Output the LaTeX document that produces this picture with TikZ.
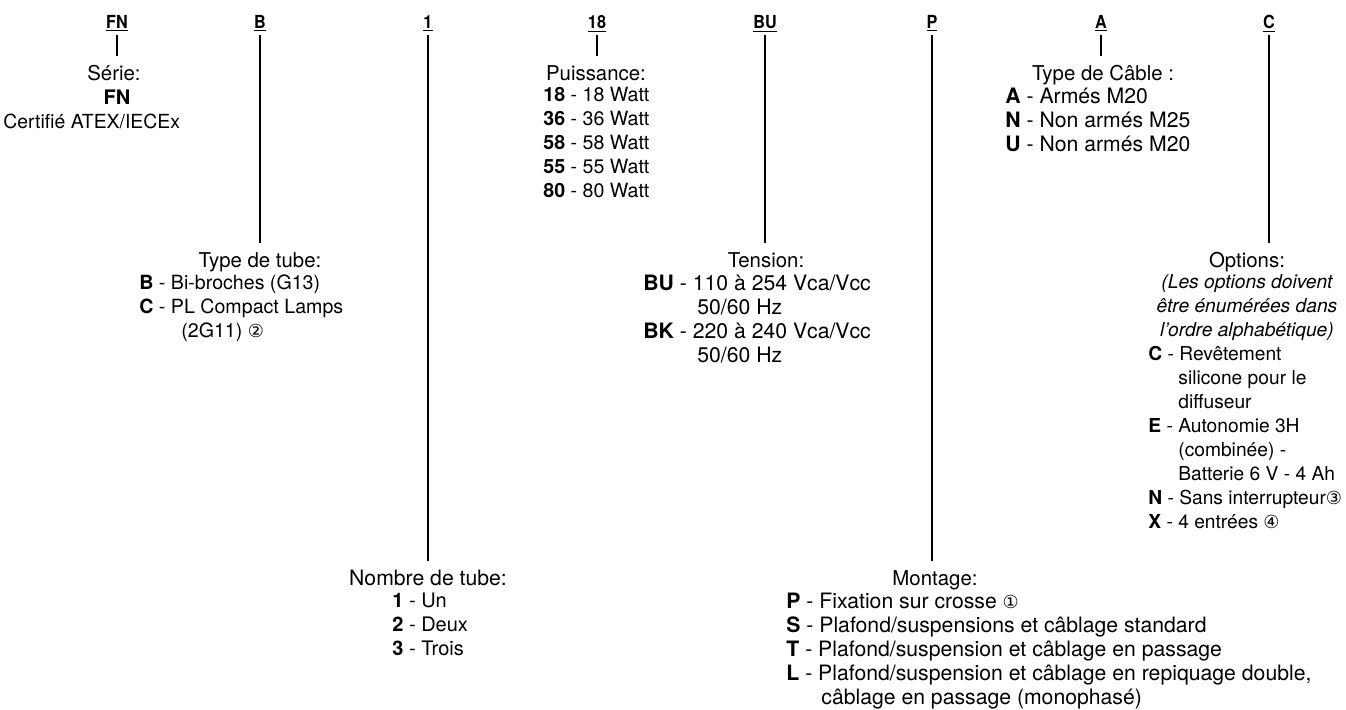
\documentclass[tikz,border=0pt]{standalone}
\usepackage{fontspec}
\setmainfont{TeX Gyre Heros}
\newfontfamily\codefont[FakeStretch=0.9]{TeX Gyre Heros}
\newfontfamily\symfont{DejaVu Sans}
\newcommand{\cnum}[1]{{\symfont\fontsize{9}{12}\selectfont #1}}
\usetikzlibrary{calc}

\begin{document}
\begin{tikzpicture}[x=0.5pt, y=-0.5pt,
    code/.style={font=\codefont\bfseries\fontsize{9}{12}\selectfont, anchor=base, inner sep=0pt, text depth=3.5pt},
    title/.style={font=\fontsize{#1}{12}\selectfont, anchor=base, inner xsep=0pt, inner ysep=4.5pt, text height=7.2pt, text depth=0pt},
    title/.default=10.2,
    list/.style={font=\fontsize{#1}{12}\selectfont, anchor=north west, align=left, inner sep=0pt, execute at begin node=\strut},
    list/.default=10,
    note/.style={list, font=\fontsize{9.6}{12}\selectfont\itshape, anchor=north, align=center},
    link/.style={line width=0.6pt}]
    \useasboundingbox (0,0) rectangle (1346,709);

    \node[code] (fn) at (117,28) {\underline{FN}};
    \node[code] (b) at (260,28) {\underline{B}};
    \node[code] (nb) at (428,28) {\underline{1}};
    \node[code] (w) at (597,28) {\underline{18}};
    \node[code] (bu) at (765,28) {\underline{BU}};
    \node[code] (p) at (932,28) {\underline{P}};
    \node[code] (a) at (1101,28) {\underline{A}};
    \node[code] (c) at (1269,28) {\underline{C}};

    \node[title] (serie) at (114,80) {Série:};
    \node[list, anchor=north] (fnbold) at (117,87.2) {\textbf{FN}};
    \node[list=9.7] (certif) at (3,111.2) {Certifié ATEX/IECEx};

    \node[title] (tube) at (260,267) {Type de tube:};
    \node[list=9.8] (tubelist) at (139,274.2) {\textbf{B} - Bi-broches (G13)\\\textbf{C} - PL Compact Lamps\\\hspace*{21pt}(2G11) \cnum{②}};

    \node[title=10.6] (nombre) at (428,585) {Nombre de tube:};
    \node[list] (nombrelist) at (392,592.2) {\textbf{1} - Un\\\textbf{2} - Deux\\\textbf{3} - Trois};

    \node[title] (puiss) at (596,80) {Puissance:};
    \node[list=9.8] (puisslist) at (543,87.2) {\textbf{18} - 18 Watt\\\textbf{36} - 36 Watt\\\textbf{58} - 58 Watt\\\textbf{55} - 55 Watt\\\textbf{80} - 80 Watt};

    \node[title] (tension) at (766,267) {Tension:};
    \node[list=10.6] (tensionlist) at (643,274.2) {\textbf{BU} - 110 à 254 Vca/Vcc\\\hspace*{27pt}50/60 Hz\\\textbf{BK} - 220 à 240 Vca/Vcc\\\hspace*{27pt}50/60 Hz};

    \node[title] (montage) at (935,585) {Montage:};
    \node[list=10.6] (montagelist) at (786,592.2) {\textbf{P} - Fixation sur crosse \cnum{①}\\\textbf{S} - Plafond/suspensions et câblage standard\\\textbf{T} - Plafond/suspension et câblage en passage\\\textbf{L} - Plafond/suspension et câblage en repiquage double,\\\hspace*{17.5pt}câblage en passage (monophasé)};

    \node[title] (cable) at (1103,80) {Type de Câble :};
    \node[list=10.6] (cablelist) at (1005,87.2) {\textbf{A} - Armés M20\\\textbf{N} - Non armés M25\\\textbf{U} - Non armés M20};

    \node[title] (options) at (1247,267) {Options:};
    \node[note] (optnote) at (1247,274.2) {(Les options doivent\\être énumérées dans\\l'ordre alphabétique)};
    \node[list=9.6] (optlist) at (1148,346.2) {\textbf{C} - Revêtement\\\hspace*{15pt}silicone pour le\\\hspace*{15pt}diffuseur\\\textbf{E} - Autonomie 3H\\\hspace*{15pt}(combinée) -\\\hspace*{15pt}Batterie 6 V - 4 Ah\\\textbf{N} - Sans interrupteur\cnum{③}\\\textbf{X} - 4 entrées \cnum{④}};

    \draw[link] (fn.south) -- (fn.south |- serie.north);
    \draw[link] (b.south) -- (b.south |- tube.north);
    \draw[link] (nb.south) -- (nb.south |- nombre.north);
    \draw[link] (w.south) -- (w.south |- puiss.north);
    \draw[link] (bu.south) -- (bu.south |- tension.north);
    \draw[link] (p.south) -- (p.south |- montage.north);
    \draw[link] (a.south) -- (a.south |- cable.north);
    \draw[link] (c.south) -- (c.south |- options.north);
\end{tikzpicture}
\end{document}
